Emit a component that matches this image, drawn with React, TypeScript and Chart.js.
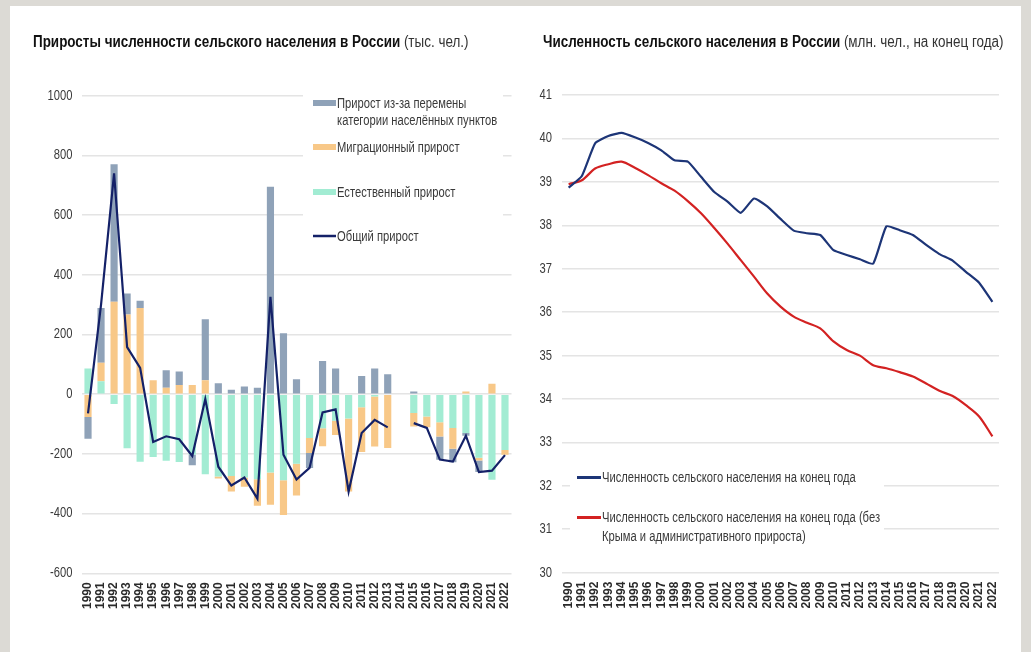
import React, { useEffect, useRef } from "react";
import { Chart, registerables } from "chart.js";

Chart.register(...registerables);

const FONT = "'Liberation Sans', Arial, sans-serif";
const SQUEEZE = 0.8;

const years = [
  "1990", "1991", "1992", "1993", "1994", "1995", "1996", "1997", "1998", "1999",
  "2000", "2001", "2002", "2003", "2004", "2005", "2006", "2007", "2008", "2009",
  "2010", "2011", "2012", "2013", "2014", "2015", "2016", "2017", "2018", "2019",
  "2020", "2021", "2022",
];

// Left chart (тыс. чел.)
const naturalGrowth = [
  86, 43, -33, -181, -226, -210, -223, -227, -203, -268,
  -276, -274, -279, -285, -262, -288, -233, -147, -114, -89,
  -81, -44, -8, -3, null, -63, -75, -94, -113, -130,
  -213, -287, -187,
];
const migrationGrowth = [
  -76, 62, 310, 267, 289, 47, 22, 31, 31, 47,
  -6, -52, -31, -89, -108, -117, -106, -50, -60, -48,
  -245, -150, -167, -177, null, -45, -36, -48, -70, 9,
  -9, 35, -16,
];
const adminGrowth = [
  -73, 184, 460, 70, 24, 0, 58, 45, -35, 204,
  37, 15, 26, 22, 695, 204, 50, -50, 111, 86,
  0, 61, 86, 67, null, 9, 0, -78, -45, -9,
  -39, 0, 0,
];
const totalGrowth = [
  -64, 300, 740, 158, 88, -160, -141, -151, -207, -16,
  -243, -306, -279, -350, 326, -203, -286, -247, -61, -51,
  -326, -130, -86, -111, null, -97, -113, -219, -226, -139,
  -261, -256, -204,
];

// Right chart (млн. чел.)
const ruralPopulation = [
  38.87, 39.14, 39.89, 40.06, 40.13, 40.03, 39.9, 39.73, 39.5, 39.47,
  39.12, 38.77, 38.55, 38.29, 38.62, 38.44, 38.15, 37.88, 37.82, 37.78,
  37.43, 37.32, 37.22, 37.12, 37.98, 37.89, 37.78, 37.55, 37.34, 37.19,
  36.93, 36.68, 36.24,
];
const ruralPopulationAdj = [
  38.95, 39.04, 39.31, 39.41, 39.47, 39.33, 39.16, 38.97, 38.8, 38.56,
  38.28, 37.94, 37.58, 37.2, 36.82, 36.43, 36.13, 35.9, 35.76, 35.63,
  35.33, 35.13, 35.0, 34.78, 34.71, 34.62, 34.52, 34.36, 34.19, 34.07,
  33.86, 33.6, 33.14,
];

const leftTicks = [-600, -400, -200, 0, 200, 400, 600, 800, 1000];
const rightTicks = [30, 31, 32, 33, 34, 35, 36, 37, 38, 39, 40, 41];

const COLORS = {
  admin: "#8fa2b8",
  migration: "#f8c888",
  natural: "#a2ecd3",
  total: "#142168",
  blue: "#1d3577",
  red: "#d32222",
  grid: "#e4e4e4",
  text: "#3a3a3a",
};

function squeezedText(ctx: CanvasRenderingContext2D, t: string, x: number, y: number) {
  ctx.save();
  ctx.translate(x, 0);
  ctx.scale(SQUEEZE, 1);
  ctx.fillText(t, 0, y);
  ctx.restore();
}

const leftLegend = {
  id: "leftLegend",
  beforeDatasetsDraw(chart: any) {
    const ctx = chart.ctx;
    ctx.save();
    ctx.fillStyle = "#ffffff";
    ctx.fillRect(303, 86, 200, 162);
    ctx.font = `14px ${FONT}`;
    ctx.textBaseline = "middle";
    ctx.textAlign = "left";
    const items = [
      { kind: "box", color: COLORS.admin, y: 103, lines: ["Прирост из-за перемены", "категории населённых пунктов"] },
      { kind: "box", color: COLORS.migration, y: 147, lines: ["Миграционный прирост"] },
      { kind: "box", color: COLORS.natural, y: 192, lines: ["Естественный прирост"] },
      { kind: "line", color: COLORS.total, y: 236, lines: ["Общий прирост"] },
    ];
    for (const it of items) {
      if (it.kind === "box") {
        ctx.fillStyle = it.color;
        ctx.fillRect(313, it.y - 3, 23, 6);
      } else {
        ctx.strokeStyle = it.color;
        ctx.lineWidth = 2.5;
        ctx.beginPath();
        ctx.moveTo(313, it.y);
        ctx.lineTo(336, it.y);
        ctx.stroke();
      }
      ctx.fillStyle = COLORS.text;
      it.lines.forEach((t: string, i: number) => squeezedText(ctx, t, 337, it.y + 1 + i * 17));
    }
    ctx.restore();
  },
};

const rightLegend = {
  id: "rightLegend",
  beforeDatasetsDraw(chart: any) {
    const ctx = chart.ctx;
    ctx.save();
    ctx.fillStyle = "#ffffff";
    ctx.fillRect(570, 462, 314, 88);
    ctx.font = `14px ${FONT}`;
    ctx.textBaseline = "middle";
    ctx.textAlign = "left";
    const items = [
      { color: COLORS.blue, y: 477.5, lines: ["Численность сельского населения на конец года"] },
      { color: COLORS.red, y: 517.5, lines: ["Численность сельского населения на конец года (без", "Крыма и административного прироста)"] },
    ];
    for (const it of items) {
      ctx.strokeStyle = it.color;
      ctx.lineWidth = 3;
      ctx.beginPath();
      ctx.moveTo(577, it.y);
      ctx.lineTo(601, it.y);
      ctx.stroke();
      ctx.fillStyle = COLORS.text;
      it.lines.forEach((t: string, i: number) => squeezedText(ctx, t, 602, it.y + 1 + i * 19));
    }
    ctx.restore();
  },
};

// Condense the y-axis tick labels horizontally around their right edge
function makeYFit(width: number, pad: number) {
  return (s: any) => {
    s.width = width;
    if (!s._squeezed) {
      s._squeezed = true;
      const orig = s.drawLabels.bind(s);
      s.drawLabels = (area: any) => {
        const ctx = s.ctx;
        const x0 = s.right - pad;
        ctx.save();
        ctx.translate(x0, 0);
        ctx.scale(SQUEEZE, 1);
        ctx.translate(-x0, 0);
        orig(area);
        ctx.restore();
      };
    }
  };
}

const xTicksCommon = {
  autoSkip: false,
  minRotation: 90,
  maxRotation: 90,
  padding: 9,
  color: "#2a2a2a",
  font: { family: FONT, size: 12, weight: "bold" },
};

export default function App() {
  const leftRef = useRef<HTMLCanvasElement>(null);
  const rightRef = useRef<HTMLCanvasElement>(null);

  useEffect(() => {
    document.body.style.margin = "0";
    const left = new Chart(leftRef.current!, {
      type: "bar",
      data: {
        labels: years,
        datasets: [
          { type: "bar", label: "Естественный прирост", data: naturalGrowth, backgroundColor: COLORS.natural, order: 1, stack: "s" },
          { type: "bar", label: "Миграционный прирост", data: migrationGrowth, backgroundColor: COLORS.migration, order: 1, stack: "s" },
          { type: "bar", label: "Прирост из-за перемены категории населённых пунктов", data: adminGrowth, backgroundColor: COLORS.admin, order: 1, stack: "s" },
          { type: "line", label: "Общий прирост", data: totalGrowth, borderColor: COLORS.total, borderWidth: 2.2, pointRadius: 0, tension: 0, spanGaps: false, order: 0, stack: "t" },
        ] as any,
      },
      options: {
        animation: false,
        responsive: false,
        devicePixelRatio: 1,
        layout: { padding: { left: 0, right: 519.5, top: 95.7, bottom: 8.7 } },
        plugins: { legend: { display: false }, tooltip: { enabled: false } },
        datasets: { bar: { barPercentage: 0.55, categoryPercentage: 1 } },
        scales: {
          x: {
            stacked: true,
            grid: { display: false, drawTicks: false },
            border: { display: false },
            ticks: xTicksCommon as any,
            afterFit(s: any) { s.height = 70; },
          },
          y: {
            stacked: true,
            min: -600,
            max: 1000,
            afterBuildTicks(s: any) { s.ticks = leftTicks.map((v) => ({ value: v })); },
            grid: { color: COLORS.grid, lineWidth: 1.6, drawTicks: false },
            border: { display: false },
            ticks: { padding: 9, color: COLORS.text, font: { family: FONT, size: 14 }, callback: (v: any) => String(v) },
            afterFit: makeYFit(81.5, 9),
          },
        },
      },
      plugins: [leftLegend],
    });

    const right = new Chart(rightRef.current!, {
      type: "line",
      data: {
        labels: years,
        datasets: [
          { label: "Численность сельского населения на конец года", data: ruralPopulation, borderColor: COLORS.blue, borderWidth: 2.2, pointRadius: 0, tension: 0.15 },
          { label: "Численность сельского населения на конец года (без Крыма и административного прироста)", data: ruralPopulationAdj, borderColor: COLORS.red, borderWidth: 2.2, pointRadius: 0, tension: 0.3 },
        ],
      },
      options: {
        animation: false,
        responsive: false,
        devicePixelRatio: 1,
        layout: { padding: { left: 520, right: 32, top: 95.2, bottom: 9.3 } },
        plugins: { legend: { display: false }, tooltip: { enabled: false } },
        scales: {
          x: {
            offset: true,
            grid: { display: false, drawTicks: false },
            border: { display: false },
            ticks: xTicksCommon as any,
            afterFit(s: any) { s.height = 70; },
          },
          y: {
            min: 30,
            max: 41,
            afterBuildTicks(s: any) { s.ticks = rightTicks.map((v) => ({ value: v })); },
            grid: { color: COLORS.grid, lineWidth: 1.6, drawTicks: false },
            border: { display: false },
            ticks: { padding: 10, color: COLORS.text, font: { family: FONT, size: 14 }, callback: (v: any) => String(v) },
            afterFit: makeYFit(42, 10),
          },
        },
      },
      plugins: [rightLegend],
    });

    return () => {
      left.destroy();
      right.destroy();
    };
  }, []);

  const titleStyle: React.CSSProperties = {
    position: "absolute",
    top: 33,
    fontFamily: FONT,
    fontSize: 16,
    lineHeight: "18px",
    color: "#111",
    whiteSpace: "nowrap",
    transform: "scaleX(0.84)",
    transformOrigin: "0 50%",
  };

  return (
    <div style={{ position: "relative", width: 1031, height: 652, background: "#dcdad5", overflow: "hidden" }}>
      <div style={{ position: "absolute", left: 10, top: 6, width: 1011, height: 646, background: "#ffffff" }} />
      <canvas ref={leftRef} width={1031} height={652} style={{ position: "absolute", left: 0, top: 0, width: 1031, height: 652 }} />
      <canvas ref={rightRef} width={1031} height={652} style={{ position: "absolute", left: 0, top: 0, width: 1031, height: 652 }} />
      <div style={{ ...titleStyle, left: 33 }}>
        <b>Приросты численности сельского населения в России</b>{" "}
        <span style={{ color: "#333" }}>(тыс. чел.)</span>
      </div>
      <div style={{ ...titleStyle, left: 543 }}>
        <b>Численность сельского населения в России</b>{" "}
        <span style={{ color: "#333" }}>(млн. чел., на конец года)</span>
      </div>
    </div>
  );
}
